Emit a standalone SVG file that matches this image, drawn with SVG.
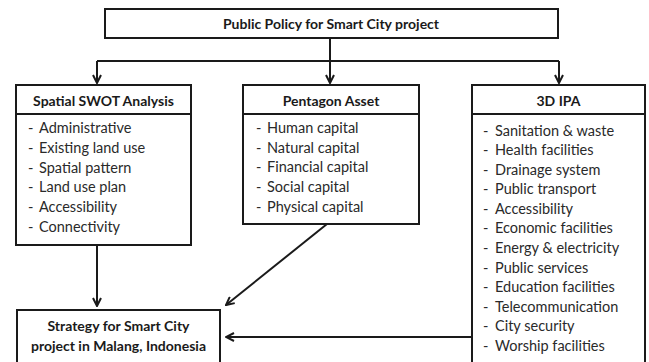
<svg xmlns="http://www.w3.org/2000/svg" width="649" height="362" viewBox="0 0 649 362">
  <style>
    .box { fill: #ffffff; stroke: #1a1a1a; stroke-width: 2; }
    .sep { stroke: #1a1a1a; stroke-width: 2; }
    .wire { fill: none; stroke: #1a1a1a; stroke-width: 2; }
    .head { font-family: Lato, "Open Sans", sans-serif; font-weight: bold; font-size: 14px; fill: #1a1a1a; text-anchor: middle; }
    .item { font-family: Lato, "Open Sans", sans-serif; font-size: 14.5px; fill: #2a2a2a; }
  </style>
  <defs>
    <marker id="chev" viewBox="0 0 10 10" refX="9" refY="5" markerWidth="10" markerHeight="10" markerUnits="userSpaceOnUse" orient="auto">
      <path d="M1,1 L9,5 L1,9" fill="none" stroke="#1a1a1a" stroke-width="2"/>
    </marker>
  </defs>
  <rect width="649" height="362" fill="#ffffff"/>

  <g id="connectors">
    <line class="wire" x1="330" y1="38" x2="330" y2="61"/>
    <line class="wire" x1="97" y1="61" x2="559" y2="61"/>
    <line class="wire" x1="97" y1="61" x2="97" y2="83" marker-end="url(#chev)"/>
    <line class="wire" x1="330" y1="61" x2="330" y2="83" marker-end="url(#chev)"/>
    <line class="wire" x1="559" y1="61" x2="559" y2="83" marker-end="url(#chev)"/>
    <line class="wire" x1="97" y1="245" x2="97" y2="306" marker-end="url(#chev)"/>
    <line class="wire" x1="327" y1="224" x2="226" y2="305" marker-end="url(#chev)"/>
    <line class="wire" x1="472" y1="337" x2="226" y2="337" marker-end="url(#chev)"/>
  </g>

  <g id="policy">
    <rect class="box" x="105" y="9" width="453" height="29"/>
    <text class="head" x="331" y="28.5">Public Policy for Smart City project</text>
  </g>

  <g id="swot">
    <rect class="box" x="16" y="85" width="175" height="160"/>
    <line class="sep" x1="16" y1="114" x2="191" y2="114"/>
    <text class="head" x="103.5" y="105.5">Spatial SWOT Analysis</text>
    <text class="item" x="28" y="133">-</text><text class="item" x="39" y="133">Administrative</text>
    <text class="item" x="28" y="153">-</text><text class="item" x="39" y="153">Existing land use</text>
    <text class="item" x="28" y="173">-</text><text class="item" x="39" y="173">Spatial pattern</text>
    <text class="item" x="28" y="192">-</text><text class="item" x="39" y="192">Land use plan</text>
    <text class="item" x="28" y="212">-</text><text class="item" x="39" y="212">Accessibility</text>
    <text class="item" x="28" y="232">-</text><text class="item" x="39" y="232">Connectivity</text>
  </g>

  <g id="pentagon">
    <rect class="box" x="243" y="85" width="176" height="139"/>
    <line class="sep" x1="243" y1="114" x2="419" y2="114"/>
    <text class="head" x="331" y="105.5">Pentagon Asset</text>
    <text class="item" x="256" y="133">-</text><text class="item" x="267" y="133">Human capital</text>
    <text class="item" x="256" y="153">-</text><text class="item" x="267" y="153">Natural capital</text>
    <text class="item" x="256" y="172">-</text><text class="item" x="267" y="172">Financial capital</text>
    <text class="item" x="256" y="192">-</text><text class="item" x="267" y="192">Social capital</text>
    <text class="item" x="256" y="212">-</text><text class="item" x="267" y="212">Physical capital</text>
  </g>

  <g id="ipa">
    <rect class="box" x="472" y="85" width="173" height="290"/>
    <line class="sep" x1="472" y1="114" x2="645" y2="114"/>
    <text class="head" x="558.5" y="105.5">3D IPA</text>
    <text class="item" x="483" y="136">-</text><text class="item" x="495" y="136">Sanitation &amp; waste</text>
    <text class="item" x="483" y="155">-</text><text class="item" x="495" y="155">Health facilities</text>
    <text class="item" x="483" y="175">-</text><text class="item" x="495" y="175">Drainage system</text>
    <text class="item" x="483" y="194">-</text><text class="item" x="495" y="194">Public transport</text>
    <text class="item" x="483" y="214">-</text><text class="item" x="495" y="214">Accessibility</text>
    <text class="item" x="483" y="233">-</text><text class="item" x="495" y="233">Economic facilities</text>
    <text class="item" x="483" y="253">-</text><text class="item" x="495" y="253">Energy &amp; electricity</text>
    <text class="item" x="483" y="273">-</text><text class="item" x="495" y="273">Public services</text>
    <text class="item" x="483" y="292">-</text><text class="item" x="495" y="292">Education facilities</text>
    <text class="item" x="483" y="312">-</text><text class="item" x="495" y="312">Telecommunication</text>
    <text class="item" x="483" y="331">-</text><text class="item" x="495" y="331">City security</text>
    <text class="item" x="483" y="351">-</text><text class="item" x="495" y="351">Worship facilities</text>
  </g>

  <g id="strategy">
    <rect class="box" x="17" y="310" width="203" height="65"/>
    <text class="head" x="118.5" y="331">Strategy for Smart City</text>
    <text class="head" x="118.5" y="351">project in Malang, Indonesia</text>
  </g>
</svg>
